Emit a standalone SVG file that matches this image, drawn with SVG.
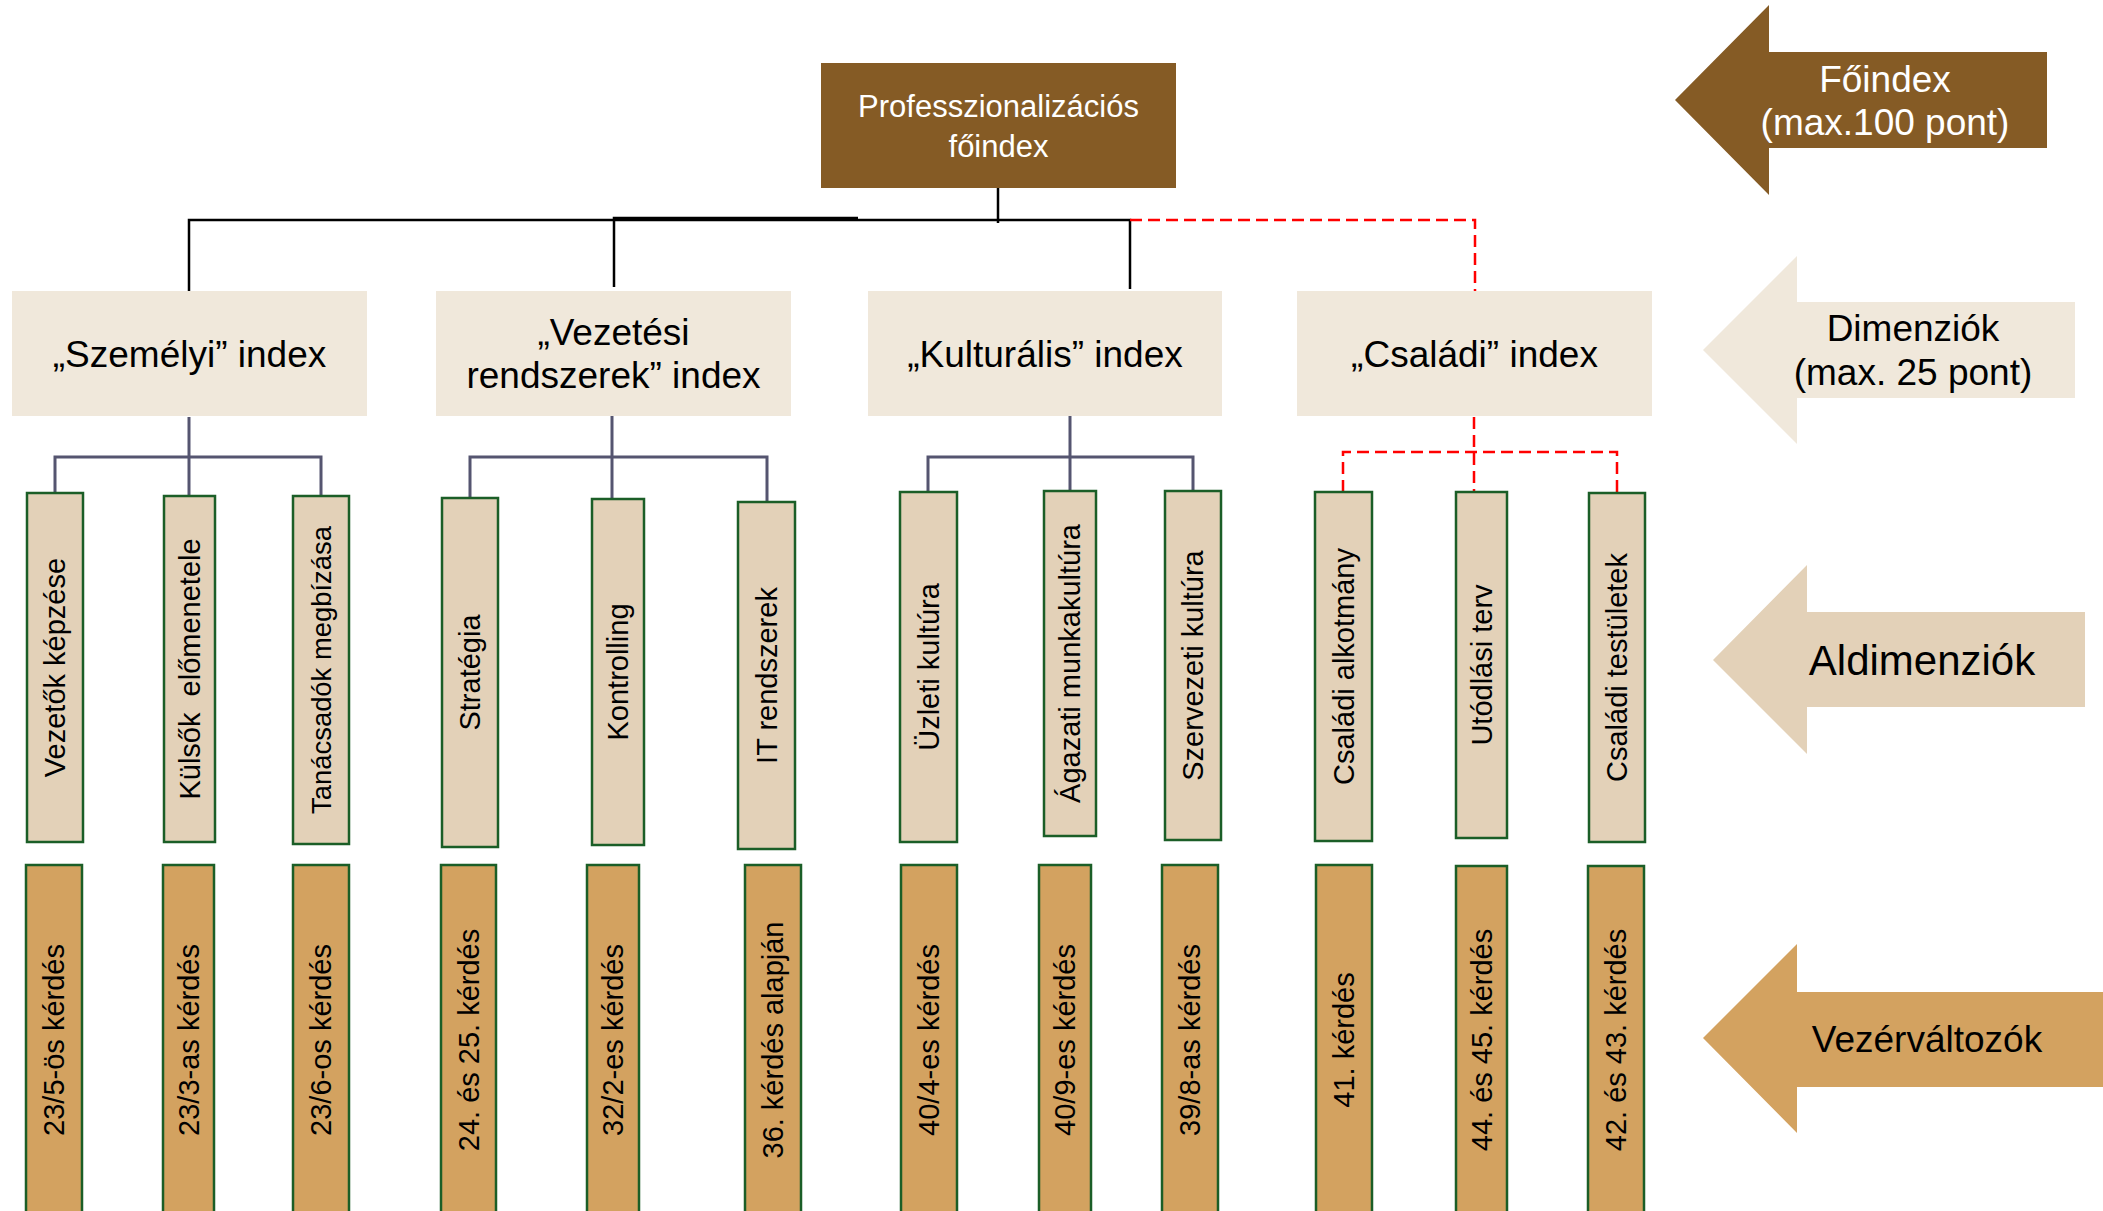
<svg xmlns="http://www.w3.org/2000/svg" width="2103" height="1211" viewBox="0 0 2103 1211">
<style>
text{font-family:"Liberation Sans",Arial,sans-serif;}
.main{fill:#855B25;}
.dim{fill:#F0E8DB;}
.sub{fill:#E3D1B8;stroke:#1B5E27;stroke-width:2.5;}
.q{fill:#D3A260;stroke:#1B5E27;stroke-width:2.5;}
.t37{font-size:37px;fill:#000;text-anchor:middle;}
.w37{font-size:37px;fill:#fff;text-anchor:middle;}
.w31{font-size:31px;fill:#fff;text-anchor:middle;}
.v{font-size:29px;fill:#000;text-anchor:middle;}
.blk{stroke:#000;stroke-width:2.5;fill:none;}
.sl{stroke:#555570;stroke-width:3;fill:none;}
.red{stroke:#FF0000;stroke-width:2.5;fill:none;stroke-dasharray:12 6;}
</style>

<g id="connectors">
  <path class="blk" d="M998 188 V223"/>
  <path class="blk" d="M189 291 V220 H1130 V289"/>
  <path class="blk" d="M614 287 V218 H858" stroke-width="3.5"/>
  <path class="red" d="M1130 220 H1475 V291"/>
  <path class="sl" d="M189 417 V457"/>
  <path class="sl" d="M55 493 V457 H321 V496"/>
  <path class="sl" d="M189 457 V496"/>
  <path class="sl" d="M612 412 V499"/>
  <path class="sl" d="M470 498 V457 H767 V502"/>
  <path class="sl" d="M1070 412 V491"/>
  <path class="sl" d="M928 492 V457 H1193 V491"/>
  <path class="red" d="M1474 417 V492"/>
  <path class="red" d="M1343 492 V452 H1617 V493"/>
</g>

<g id="foindex">
  <rect class="main" x="821" y="63" width="355" height="125"/>
  <text class="w31" x="998.5" y="117">Professzionalizációs</text>
  <text class="w31" x="998.5" y="157">főindex</text>
</g>

<g id="szemelyi">
  <rect class="dim" x="12" y="291" width="355" height="125"/>
  <text class="t37" x="189.5" y="367">„Személyi” index</text>
</g>
<g id="vezetesi">
  <rect class="dim" x="436" y="291" width="355" height="125"/>
  <text class="t37" x="613.5" y="345">„Vezetési</text>
  <text class="t37" x="613.5" y="388">rendszerek” index</text>
</g>
<g id="kulturalis">
  <rect class="dim" x="868" y="291" width="354" height="125"/>
  <text class="t37" x="1045" y="367">„Kulturális” index</text>
</g>
<g id="csaladi">
  <rect class="dim" x="1297" y="291" width="355" height="125"/>
  <text class="t37" x="1474.5" y="367">„Családi” index</text>
</g>

<g id="sub1"><rect class="sub" x="27" y="493" width="56" height="349"/><text class="v" transform="translate(55,667.5) rotate(-90)" dy="0.35em">Vezetők képzése</text></g>
<g id="sub2"><rect class="sub" x="164" y="496" width="51" height="346"/><text class="v" transform="translate(189.5,669) rotate(-90)" dy="0.35em" xml:space="preserve">Külsők  előmenetele</text></g>
<g id="sub3"><rect class="sub" x="293" y="496" width="56" height="348"/><text class="v" transform="translate(321,670) rotate(-90)" dy="0.35em" style="font-size:27.4px">Tanácsadók megbízása</text></g>
<g id="sub4"><rect class="sub" x="442" y="498" width="56" height="349"/><text class="v" transform="translate(470,672.5) rotate(-90)" dy="0.35em">Stratégia</text></g>
<g id="sub5"><rect class="sub" x="592" y="499" width="52" height="346"/><text class="v" transform="translate(618,672) rotate(-90)" dy="0.35em">Kontrolling</text></g>
<g id="sub6"><rect class="sub" x="738" y="502" width="57" height="347"/><text class="v" transform="translate(766.5,675.5) rotate(-90)" dy="0.35em">IT rendszerek</text></g>
<g id="sub7"><rect class="sub" x="900" y="492" width="57" height="350"/><text class="v" transform="translate(928.5,667) rotate(-90)" dy="0.35em">Üzleti kultúra</text></g>
<g id="sub8"><rect class="sub" x="1044" y="491" width="52" height="345"/><text class="v" transform="translate(1070,663.5) rotate(-90)" dy="0.35em">Ágazati munkakultúra</text></g>
<g id="sub9"><rect class="sub" x="1165" y="491" width="56" height="349"/><text class="v" transform="translate(1193,665.5) rotate(-90)" dy="0.35em">Szervezeti kultúra</text></g>
<g id="sub10"><rect class="sub" x="1315" y="492" width="57" height="349"/><text class="v" transform="translate(1343.5,666.5) rotate(-90)" dy="0.35em">Családi alkotmány</text></g>
<g id="sub11"><rect class="sub" x="1456" y="492" width="51" height="346"/><text class="v" transform="translate(1481.5,665) rotate(-90)" dy="0.35em">Utódlási terv</text></g>
<g id="sub12"><rect class="sub" x="1589" y="493" width="56" height="349"/><text class="v" transform="translate(1617,667.5) rotate(-90)" dy="0.35em">Családi testületek</text></g>

<g id="q1"><rect class="q" x="26" y="865" width="56" height="352"/><text class="v" transform="translate(54,1040) rotate(-90)" dy="0.35em">23/5-ös kérdés</text></g>
<g id="q2"><rect class="q" x="163" y="865" width="51" height="352"/><text class="v" transform="translate(188.5,1040) rotate(-90)" dy="0.35em">23/3-as kérdés</text></g>
<g id="q3"><rect class="q" x="293" y="865" width="56" height="352"/><text class="v" transform="translate(321,1040) rotate(-90)" dy="0.35em">23/6-os kérdés</text></g>
<g id="q4"><rect class="q" x="441" y="865" width="55" height="352"/><text class="v" transform="translate(468.5,1040) rotate(-90)" dy="0.35em">24. és 25. kérdés</text></g>
<g id="q5"><rect class="q" x="587" y="865" width="52" height="352"/><text class="v" transform="translate(613,1040) rotate(-90)" dy="0.35em">32/2-es kérdés</text></g>
<g id="q6"><rect class="q" x="745" y="865" width="56" height="352"/><text class="v" transform="translate(773,1040) rotate(-90)" dy="0.35em">36. kérdés alapján</text></g>
<g id="q7"><rect class="q" x="901" y="865" width="56" height="352"/><text class="v" transform="translate(929,1040) rotate(-90)" dy="0.35em">40/4-es kérdés</text></g>
<g id="q8"><rect class="q" x="1039" y="865" width="52" height="352"/><text class="v" transform="translate(1065,1040) rotate(-90)" dy="0.35em">40/9-es kérdés</text></g>
<g id="q9"><rect class="q" x="1162" y="865" width="56" height="352"/><text class="v" transform="translate(1190,1040) rotate(-90)" dy="0.35em">39/8-as kérdés</text></g>
<g id="q10"><rect class="q" x="1316" y="865" width="56" height="352"/><text class="v" transform="translate(1344,1040) rotate(-90)" dy="0.35em">41. kérdés</text></g>
<g id="q11"><rect class="q" x="1456" y="866" width="51" height="352"/><text class="v" transform="translate(1481.5,1040) rotate(-90)" dy="0.35em">44. és 45. kérdés</text></g>
<g id="q12"><rect class="q" x="1588" y="866" width="56" height="352"/><text class="v" transform="translate(1616,1040) rotate(-90)" dy="0.35em">42. és 43. kérdés</text></g>

<g id="arrow-foindex">
  <polygon class="main" points="1675,100 1769,5 1769,52 2047,52 2047,148 1769,148 1769,195"/>
  <text class="w37" x="1885" y="92">Főindex</text>
  <text class="w37" x="1885" y="135">(max.100 pont)</text>
</g>
<g id="arrow-dimenziok">
  <polygon class="dim" points="1703,350 1797,256 1797,302 2075,302 2075,398 1797,398 1797,444"/>
  <text class="t37" x="1913" y="341">Dimenziók</text>
  <text class="t37" x="1913" y="385">(max. 25 pont)</text>
</g>
<g id="arrow-aldimenziok">
  <polygon fill="#E3D1B8" points="1713,660 1807,565 1807,612 2085,612 2085,707 1807,707 1807,754"/>
  <text x="1922" y="675" style="font-size:42px;text-anchor:middle;fill:#000">Aldimenziók</text>
</g>
<g id="arrow-vezervaltozok">
  <polygon fill="#D3A260" points="1703,1038 1797,944 1797,992 2103,992 2103,1087 1797,1087 1797,1133"/>
  <text class="t37" x="1927" y="1052">Vezérváltozók</text>
</g>
</svg>
